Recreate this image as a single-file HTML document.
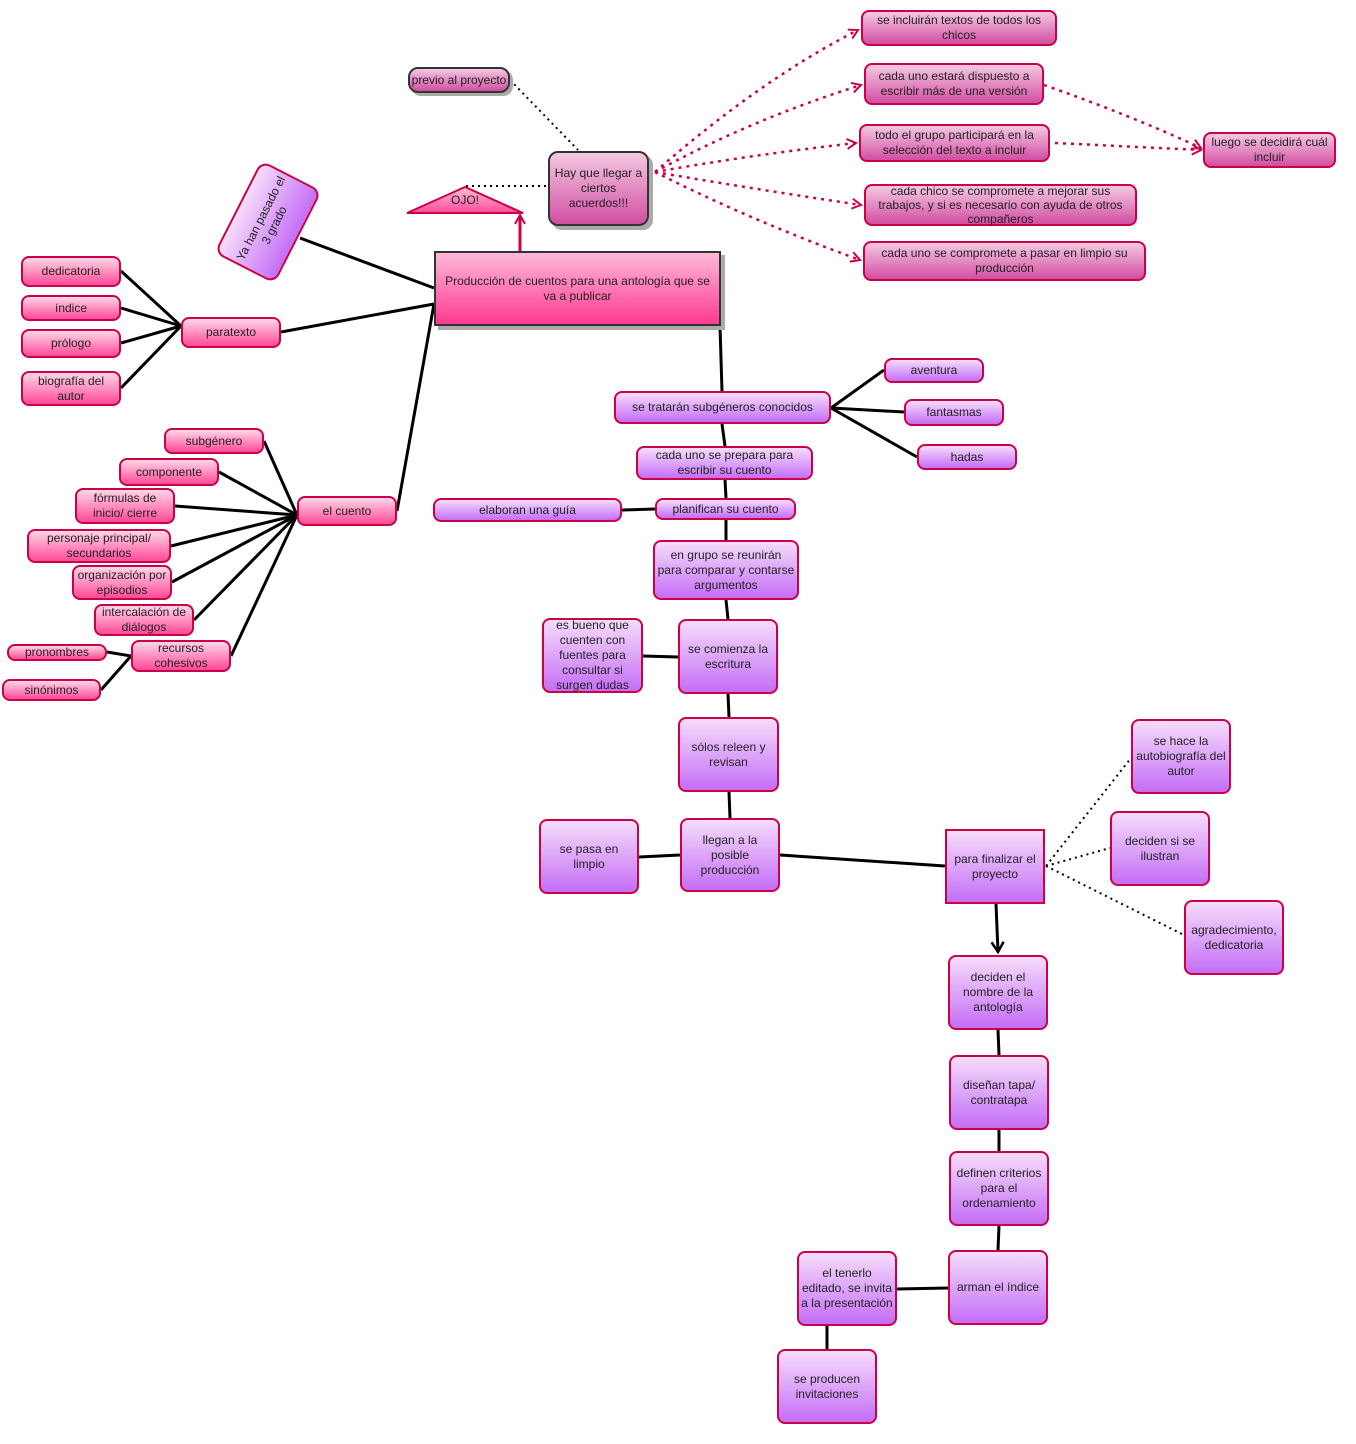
<!DOCTYPE html>
<html><head><meta charset="utf-8"><style>
body{margin:0;width:1356px;height:1444px;background:#fff;position:relative;overflow:hidden;font-family:"Liberation Sans",sans-serif;}
.n{position:absolute;box-sizing:border-box;border:2px solid #cc0044;border-radius:8px;display:flex;align-items:center;justify-content:center;text-align:center;font-size:12px;line-height:15px;color:#222;z-index:2;padding:0;}
.P{background:linear-gradient(#ffd6e8,#ff4a98);}
.V{background:linear-gradient(#f6dcfb,#c46ef6);}
.M{background:linear-gradient(#f4c8e2,#d24ea2);}
.D{border-color:#333;box-shadow:4px 4px 0 #aaa;}
svg{position:absolute;left:0;top:0;z-index:1;}
</style></head><body>
<svg width="1356" height="1444">
<defs><marker id="ar" markerWidth="12" markerHeight="12" refX="10" refY="6" orient="auto" markerUnits="userSpaceOnUse"><path d="M1,1 L10,6 L1,11" fill="none" stroke="#cc0044" stroke-width="2"/></marker>
<marker id="ab" markerWidth="14" markerHeight="14" refX="11" refY="7" orient="auto" markerUnits="userSpaceOnUse"><path d="M1,1 L11,7 L1,13" fill="none" stroke="#000" stroke-width="2.5"/></marker>
<linearGradient id="tg" x1="0" y1="0" x2="0" y2="1"><stop offset="0" stop-color="#ffc0dc"/><stop offset="1" stop-color="#ff4a98"/></linearGradient></defs>
<g stroke="#000" stroke-width="3" fill="none">
<line x1="434" y1="288" x2="300" y2="238"/>
<line x1="434" y1="304" x2="281" y2="332"/>
<line x1="434" y1="304" x2="397" y2="511"/>
<line x1="720" y1="326" x2="722" y2="391"/>
<line x1="181" y1="326" x2="121" y2="271"/>
<line x1="181" y1="326" x2="121" y2="308"/>
<line x1="181" y1="326" x2="121" y2="343"/>
<line x1="181" y1="326" x2="121" y2="388"/>
<line x1="297" y1="515" x2="264" y2="441"/>
<line x1="297" y1="515" x2="219" y2="472"/>
<line x1="297" y1="515" x2="175" y2="506"/>
<line x1="297" y1="515" x2="171" y2="546"/>
<line x1="297" y1="515" x2="172" y2="582"/>
<line x1="297" y1="515" x2="194" y2="620"/>
<line x1="297" y1="515" x2="231" y2="656"/>
<line x1="131" y1="656" x2="107" y2="652"/>
<line x1="131" y1="656" x2="101" y2="690"/>
<line x1="831" y1="408" x2="884" y2="370"/>
<line x1="831" y1="408" x2="904" y2="412"/>
<line x1="831" y1="408" x2="917" y2="457"/>
<line x1="722" y1="424" x2="725" y2="446"/>
<line x1="725" y1="480" x2="726" y2="498"/>
<line x1="622" y1="510" x2="655" y2="509"/>
<line x1="726" y1="520" x2="726" y2="540"/>
<line x1="726" y1="600" x2="728" y2="619"/>
<line x1="643" y1="656" x2="678" y2="657"/>
<line x1="728" y1="694" x2="729" y2="717"/>
<line x1="729" y1="792" x2="730" y2="818"/>
<line x1="639" y1="857" x2="680" y2="855"/>
<line x1="780" y1="855" x2="945" y2="866"/>
<line x1="996" y1="904" x2="998" y2="952" marker-end="url(#ab)"/>
<line x1="998" y1="1030" x2="999" y2="1055"/>
<line x1="999" y1="1130" x2="999" y2="1151"/>
<line x1="999" y1="1226" x2="998" y2="1250"/>
<line x1="897" y1="1289" x2="948" y2="1288"/>
<line x1="827" y1="1326" x2="827" y2="1349"/>
</g>
<g stroke="#000" stroke-width="2" stroke-dasharray="2,4" fill="none">
<line x1="510" y1="80" x2="578" y2="150"/>
<line x1="466" y1="186" x2="548" y2="186"/>
<line x1="1046" y1="866" x2="1131" y2="758"/>
<line x1="1046" y1="866" x2="1110" y2="848"/>
<line x1="1046" y1="866" x2="1184" y2="935"/>
</g>
<g stroke="#cc0044" stroke-width="2.5" stroke-dasharray="3,5" fill="none">
<path d="M655,172 Q760,80 858,30" marker-end="url(#ar)"/>
<path d="M655,172 Q750,120 861,85" marker-end="url(#ar)"/>
<path d="M655,172 Q750,155 856,143" marker-end="url(#ar)"/>
<path d="M655,172 Q760,190 861,205" marker-end="url(#ar)"/>
<path d="M655,172 Q750,220 860,260" marker-end="url(#ar)"/>
<path d="M1044,85 Q1130,115 1201,148" marker-end="url(#ar)"/>
<path d="M1055,143 L1201,150" marker-end="url(#ar)"/>
</g>
<line x1="520" y1="251" x2="520" y2="215" stroke="#cc0044" stroke-width="3" marker-end="url(#ar)"/>
<polygon points="465,187 407,213 523,213" fill="url(#tg)" stroke="#cc0044" stroke-width="2"/>
<text x="465" y="204" font-family="Liberation Sans" font-size="12" text-anchor="middle" fill="#222">OJO!</text>
</svg>

<div class="n M" style="left:861px;top:10px;width:196px;height:36px">se incluirán textos de todos los chicos</div>
<div class="n M" style="left:864px;top:63px;width:180px;height:42px">cada uno estará dispuesto a escribir más de una versión</div>
<div class="n M" style="left:859px;top:124px;width:191px;height:38px">todo el grupo participará en la selección del texto a incluir</div>
<div class="n M" style="left:864px;top:184px;width:273px;height:42px;padding:0 8px;line-height:14px">cada chico se compromete a mejorar sus trabajos, y si es necesario con ayuda de otros compañeros</div>
<div class="n M" style="left:863px;top:241px;width:283px;height:40px;padding:0 10px">cada uno se compromete a pasar en limpio su producción</div>
<div class="n M" style="left:1203px;top:132px;width:133px;height:36px">luego se decidirá cuál incluir</div>
<div class="n M D" style="left:408px;top:67px;width:102px;height:26px;border-radius:10px;box-shadow:3px 3px 0 #aaa;white-space:nowrap">previo al proyecto</div>
<div class="n M D" style="left:548px;top:151px;width:101px;height:75px;border-radius:10px">Hay que llegar a ciertos acuerdos!!!</div>
<div class="n" style="left:216px;top:188px;width:104px;height:68px;transform:rotate(-63deg);background:linear-gradient(to bottom,#f6dcfb,#c46ef6);border-radius:10px;">Ya han pasado el 3 grado</div>
<div class="n P D" style="left:434px;top:251px;width:287px;height:75px;border-radius:0;background:linear-gradient(#ffb8d8,#ff3a92);padding:0 6px">Producción de cuentos para una antología que se va a publicar</div>

<div class="n P" style="left:21px;top:256px;width:100px;height:31px">dedicatoria</div>
<div class="n P" style="left:21px;top:295px;width:100px;height:26px">índice</div>
<div class="n P" style="left:21px;top:329px;width:100px;height:29px">prólogo</div>
<div class="n P" style="left:21px;top:371px;width:100px;height:35px">biografía del autor</div>
<div class="n P" style="left:181px;top:317px;width:100px;height:31px">paratexto</div>
<div class="n P" style="left:164px;top:428px;width:100px;height:26px">subgénero</div>
<div class="n P" style="left:119px;top:458px;width:100px;height:28px">componente</div>
<div class="n P" style="left:75px;top:488px;width:100px;height:36px">fórmulas de inicio/ cierre</div>
<div class="n P" style="left:27px;top:529px;width:144px;height:34px">personaje principal/ secundarios</div>
<div class="n P" style="left:72px;top:565px;width:100px;height:35px">organización por episodios</div>
<div class="n P" style="left:94px;top:604px;width:100px;height:32px">intercalación de diálogos</div>
<div class="n P" style="left:131px;top:640px;width:100px;height:32px">recursos cohesivos</div>
<div class="n P" style="left:7px;top:644px;width:100px;height:17px">pronombres</div>
<div class="n P" style="left:2px;top:679px;width:99px;height:22px">sinónimos</div>
<div class="n P" style="left:297px;top:496px;width:100px;height:30px">el cuento</div>

<div class="n V" style="left:614px;top:391px;width:217px;height:33px">se tratarán subgéneros conocidos</div>
<div class="n V" style="left:884px;top:358px;width:100px;height:25px">aventura</div>
<div class="n V" style="left:904px;top:399px;width:100px;height:27px">fantasmas</div>
<div class="n V" style="left:917px;top:444px;width:100px;height:26px">hadas</div>
<div class="n V" style="left:636px;top:446px;width:177px;height:34px;padding:0 14px">cada uno se prepara para escribir su cuento</div>
<div class="n V" style="left:655px;top:498px;width:141px;height:22px">planifican su cuento</div>
<div class="n V" style="left:433px;top:498px;width:189px;height:24px">elaboran una guía</div>
<div class="n V" style="left:653px;top:540px;width:146px;height:60px">en grupo se reunirán<br>para comparar y contarse<br>argumentos</div>
<div class="n V" style="left:542px;top:618px;width:101px;height:75px;padding:0 8px">es bueno que cuenten con fuentes para consultar si surgen dudas</div>
<div class="n V" style="left:678px;top:619px;width:100px;height:75px">se comienza la escritura</div>
<div class="n V" style="left:678px;top:717px;width:101px;height:75px;padding:0 8px">sólos releen y revisan</div>
<div class="n V" style="left:680px;top:818px;width:100px;height:74px;padding:0 12px">llegan a la posible producción</div>
<div class="n V" style="left:539px;top:819px;width:100px;height:75px;padding:0 12px">se pasa en limpio</div>
<div class="n V" style="left:945px;top:829px;width:100px;height:75px;border-radius:0">para finalizar el proyecto</div>
<div class="n V" style="left:1131px;top:719px;width:100px;height:75px">se hace la autobiografía del autor</div>
<div class="n V" style="left:1110px;top:811px;width:100px;height:75px;padding:0 10px">deciden si se ilustran</div>
<div class="n V" style="left:1184px;top:900px;width:100px;height:75px">agradecimiento, dedicatoria</div>
<div class="n V" style="left:948px;top:955px;width:100px;height:75px;padding:0 10px">deciden el nombre de la antología</div>
<div class="n V" style="left:949px;top:1055px;width:100px;height:75px;padding:0 10px">diseñan tapa/ contratapa</div>
<div class="n V" style="left:949px;top:1151px;width:100px;height:75px;padding:0 2px">definen criterios para el ordenamiento</div>
<div class="n V" style="left:948px;top:1250px;width:100px;height:75px">arman el índice</div>
<div class="n V" style="left:797px;top:1251px;width:100px;height:75px">el tenerlo<br>editado, se invita<br>a la presentación</div>
<div class="n V" style="left:777px;top:1349px;width:100px;height:75px;padding:0 10px">se producen invitaciones</div>
</body></html>
